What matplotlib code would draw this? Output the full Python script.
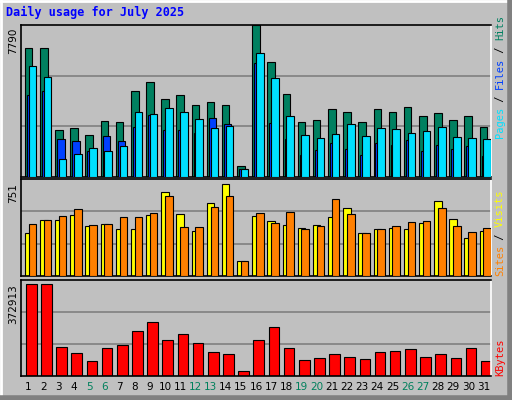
import matplotlib
matplotlib.use("Agg")
import matplotlib.pyplot as plt
from matplotlib.patches import Rectangle
import numpy as np

days = list(range(1, 32))
hits = [6591, 6591, 2431, 2534, 2174, 2893, 2842, 4383, 4845, 3972, 4177, 3715, 3869, 3715, 582, 7790,
        5872, 4229, 2842, 2945, 3510, 3356, 2842, 3510, 3356, 3612, 3150, 3304, 2945, 3150, 2585]
files = [4194, 4400, 1969, 1866, 1318, 2123, 1866, 2585, 3201, 2431, 2431, 2277, 3047, 2739, 428, 5821,
         2791, 1969, 1147, 1404, 1763, 1455, 1147, 1763, 1661, 1917, 1352, 1661, 1455, 1609, 1096]
pages = [5667, 5102, 942, 1198, 1507, 1352, 1609, 3356, 3253, 3561, 3356, 2996, 2534, 2636, 428, 6334,
         5050, 3150, 2174, 2020, 2226, 2739, 2123, 2534, 2482, 2277, 2380, 2585, 2072, 2020, 1969]
visits = [334, 435, 435, 474, 389, 404, 365, 365, 474, 653, 482, 350, 567, 715, 117, 466,
          427, 396, 373, 396, 458, 528, 334, 365, 373, 365, 412, 583, 443, 295, 350]
sites = [404, 435, 466, 521, 396, 404, 458, 458, 490, 622, 381, 381, 536, 622, 117, 490,
         412, 497, 365, 389, 598, 482, 334, 365, 389, 420, 427, 528, 389, 342, 373]
kbytes = [357000, 357000, 111700, 88000, 57000, 108000, 119500, 174000, 209000, 139000, 162000,
          127000, 92000, 84000, 18000, 139000, 190000, 108000, 61000, 69000, 84000, 73000, 65000,
          92000, 96000, 104000, 73000, 84000, 69000, 108000, 57000]
weekend = [5, 6, 12, 13, 19, 20, 26, 27]
max_hits, max_visits, max_kb = 7790, 751, 372913

W, H = 512, 400
fig = plt.figure(figsize=(W/100, H/100), dpi=100, facecolor="#C0C0C0")
mono = "DejaVu Sans Mono"

def fr(x0, y0, x1, y1):
    return [x0/W, 1-y1/H, (x1-x0)/W, (y1-y0)/H]

# outer bevel
fig.add_artist(plt.Line2D([0, 1], [1-1/H, 1-1/H], color="white", lw=2, transform=fig.transFigure))
fig.add_artist(plt.Line2D([1/W, 1/W], [0, 1], color="white", lw=2, transform=fig.transFigure))
fig.add_artist(plt.Line2D([0, 1], [2/H, 2/H], color="#808080", lw=4, transform=fig.transFigure))
fig.add_artist(plt.Line2D([1-2/W, 1-2/W], [0, 1], color="#808080", lw=4, transform=fig.transFigure))

fig.text(6/W, 1-16/H, "Daily usage for July 2025", color="#0000FF", fontweight="bold",
         family=mono, fontsize=8.5, va="baseline")

def setup(ax, top):
    ax.set_facecolor("#C0C0C0")
    ax.set_xlim(0.5, 31.5)
    ax.set_ylim(0, top)
    ax.set_xticks([]); ax.set_yticks([])
    for y in (top/3, 2*top/3):
        ax.axhline(y, color="#808080", lw=1.2, zorder=0)
    for s in ("top", "left", "bottom"):
        ax.spines[s].set_color("black")
    ax.spines["right"].set_color("white")
    for s in ax.spines.values():
        s.set_linewidth(1.2)

d = np.array(days)
ew = 0.8
ax1 = fig.add_axes(fr(21, 25, 491, 177))
setup(ax1, max_hits)
ax1.bar(d-0.25, hits, 0.5, align="edge", color="#008060", edgecolor="black", lw=ew, zorder=2)
ax1.bar(d-0.12, files, 0.5, align="edge", color="#0040FF", edgecolor="black", lw=ew, zorder=3)
ax1.bar(d+0.0, pages, 0.5, align="edge", color="#00E0FF", edgecolor="black", lw=ew, zorder=4)

ax2 = fig.add_axes(fr(21, 179, 491, 276))
setup(ax2, max_visits)
ax2.bar(d-0.25, visits, 0.5, align="edge", color="#FFFF00", edgecolor="black", lw=ew, zorder=2)
ax2.bar(d+0.0, sites, 0.5, align="edge", color="#FF8000", edgecolor="black", lw=ew, zorder=3)

ax3 = fig.add_axes(fr(21, 280, 491, 376))
setup(ax3, max_kb)
ax3.bar(d-0.17, kbytes, 0.7, align="edge", color="#FF0000", edgecolor="black", lw=ew, zorder=2)

for day in days:
    ax3.text(day, -0.06, str(day), transform=ax3.get_xaxis_transform(), ha="center", va="top",
             fontsize=7.5, color="#00805C" if day in weekend else "black")

fs = 7.5
fig.text(13/W, 1-28/H, str(max_hits), rotation=90, ha="center", va="top", fontsize=fs)
fig.text(13/W, 1-183/H, str(max_visits), rotation=90, ha="center", va="top", fontsize=fs)
fig.text(13/W, 1-284/H, str(max_kb), rotation=90, ha="center", va="top", fontsize=fs)

def side(parts, ybottom):
    y = ybottom
    for txt, col in parts:
        t = fig.text(500/W, 1-y/H, txt, rotation=90, ha="center", va="bottom",
                     family=mono, fontsize=7.5, color=col)
        y -= len(txt) * 6.1
side([("Pages", "#00E0FF"), (" / ", "black"), ("Files", "#0040FF"), (" / ", "black"), ("Hits", "#008060")], 138)
side([("Sites", "#FF8000"), (" / ", "black"), ("Visits", "#FFFF00")], 276)
side([("KBytes", "#FF0000")], 376)

fig.savefig("out.png", dpi=100, facecolor=fig.get_facecolor())
